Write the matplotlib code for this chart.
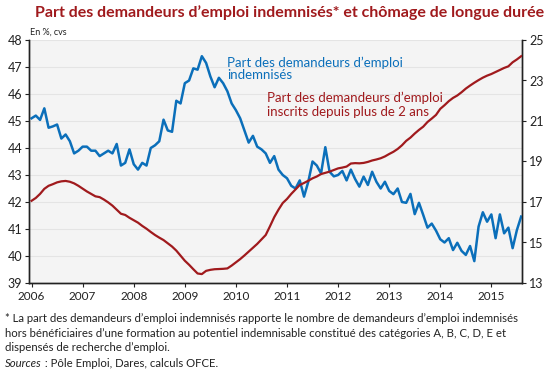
import numpy as np
import matplotlib.pyplot as plt

# monthly data, Jan 2006 -> Aug 2015
months = 2006 + np.arange(116) / 12

# part des demandeurs d'emploi indemnises (left axis, %)
indemnises = [
    45.1, 45.2, 45.04, 45.47, 44.75, 44.8, 44.87, 44.35, 44.5, 44.25, 43.8, 43.9,
    44.05, 44.05, 43.9, 43.9, 43.7, 43.8, 43.9, 43.8, 44.15, 43.35, 43.45, 43.95,
    43.4, 43.2, 43.45, 43.35, 44.0, 44.1, 44.25, 45.05, 44.65, 44.6, 45.75, 45.65,
    46.4, 46.5, 46.95, 46.9, 47.4, 47.15, 46.65, 46.25, 46.6, 46.4, 46.1, 45.65,
    45.4, 45.1, 44.65, 44.2, 44.45, 44.05, 43.95, 43.8, 43.45, 43.7, 43.2, 43.0,
    42.88, 42.6, 42.5, 42.8, 42.2, 42.75, 43.5, 43.35, 43.06, 44.03, 43.12, 42.95,
    43.0, 43.15, 42.8, 43.2, 42.85, 42.57, 42.94, 42.63, 43.12, 42.75, 42.5, 42.75,
    42.41, 42.29, 42.5, 42.0, 41.97, 42.3, 41.55, 41.97, 41.52, 41.05, 41.2, 40.94,
    40.62, 40.5, 40.66, 40.22, 40.49, 40.19, 40.04, 40.37, 39.81, 41.09, 41.62, 41.27,
    41.54, 40.66, 41.54, 40.84, 41.05, 40.29, 40.96, 41.46,
]

# part des inscrits depuis plus de 2 ans (right axis, %)
longue_duree = [
    17.06, 17.2, 17.4, 17.65, 17.8, 17.88, 17.97, 18.02, 18.04, 18.0, 17.92, 17.8,
    17.66, 17.52, 17.4, 17.28, 17.24, 17.12, 16.98, 16.82, 16.62, 16.42, 16.36, 16.22,
    16.1, 15.98, 15.82, 15.68, 15.52, 15.37, 15.24, 15.12, 14.96, 14.8, 14.6, 14.35,
    14.1, 13.9, 13.68, 13.47, 13.44, 13.6, 13.65, 13.68, 13.69, 13.7, 13.72, 13.86,
    14.02, 14.18, 14.36, 14.55, 14.74, 14.93, 15.15, 15.37, 15.8, 16.25, 16.62, 16.95,
    17.15, 17.4, 17.62, 17.84, 17.94, 18.05, 18.17, 18.26, 18.38, 18.44, 18.5, 18.58,
    18.66, 18.7, 18.75, 18.9, 18.92, 18.91, 18.93, 18.98, 19.05, 19.1, 19.16, 19.25,
    19.37, 19.48, 19.62, 19.8, 20.02, 20.18, 20.38, 20.56, 20.72, 20.95, 21.12, 21.3,
    21.6, 21.78, 21.98, 22.14, 22.26, 22.42, 22.6, 22.75, 22.89, 23.02, 23.14, 23.24,
    23.32, 23.42, 23.52, 23.62, 23.7, 23.9, 24.04, 24.2,
]

years = list(range(2006, 2016))
left_ticks = list(range(39, 49))
right_ticks = list(range(13, 26, 2))

blue = '#0b6fba'
red = '#a01a1d'
dark = '#222222'

plt.rcParams['font.family'] = ['Lato', 'DejaVu Sans']

fig = plt.figure(figsize=(5.5, 3.7), dpi=100)
ax = fig.add_axes([29/550, 1-283/370, (522-29)/550, (283-40)/370])
ax.set_facecolor('#f4f4f4')
ax2 = ax.twinx()

ax.plot(months, indemnises, color=blue, lw=1.8, zorder=3)
ax2.plot(months, longue_duree, color=red, lw=1.6, zorder=3)

ax.set_xlim(2005.95, 2015.6)
ax.set_ylim(39, 48)
ax2.set_ylim(13, 25)
ax.set_xticks(years)
ax.set_xticklabels([str(y) for y in years], fontsize=8.5, color=dark)
ax.set_yticks(left_ticks)
ax.set_yticklabels([str(v) for v in left_ticks], fontsize=9, color=dark)
ax2.set_yticks(right_ticks)
ax2.set_yticklabels([str(v) for v in right_ticks], fontsize=9, color=dark)

ax.grid(axis='y', color='#e4e4e4', lw=0.8)
ax.set_axisbelow(True)

for a in (ax, ax2):
    a.spines['top'].set_visible(False)
    for s in ('left', 'right', 'bottom'):
        a.spines[s].set_color(dark)
        a.spines[s].set_linewidth(1.0)
    a.tick_params(direction='out', length=3, width=0.8, color=dark, pad=2)
ax.tick_params(axis='x', length=3, pad=3)

fig.text(290/550, 0.965, 'Part des demandeurs d\u2019emploi indemnisés* et chômage de longue durée',
         ha='center', va='center', fontsize=11.5, fontweight='bold', color=red)
fig.text(30/550, 1-32/370, 'En %, cvs', fontsize=6.5, color=dark, va='center')

ax.text(2009.83, 46.95, 'Part des demandeurs d\u2019emploi\nindemnisés', color=blue,
        fontsize=9.5, va='center', ha='left', linespacing=1.0)
ax.text(2010.6, 45.6, 'Part des demandeurs d\u2019emploi\ninscrits depuis plus de 2 ans', color=red,
        fontsize=9.5, va='center', ha='left', linespacing=1.15)

note = ('* La part des demandeurs d\u2019emploi indemnisés rapporte le nombre de demandeurs d\u2019emploi indemnisés\n'
        'hors bénéficiaires d\u2019une formation au potentiel indemnisable constitué des catégories A, B, C, D, E et\n'
        'dispensés de recherche d\u2019emploi.')
fig.text(5/550, 1-313/370, note, fontsize=8.2, color=dark, va='top', ha='left', linespacing=1.4)
src = fig.text(5/550, 1-358/370, 'Sources', fontsize=8.2, color=dark, va='top', ha='left', style='italic')
fig.canvas.draw()
bb = src.get_window_extent()
fig.text(bb.x1 / fig.bbox.width, 1-358/370, ' : Pôle Emploi, Dares, calculs OFCE.', fontsize=8.2,
         color=dark, va='top', ha='left')

fig.savefig('out.png', dpi=100)
